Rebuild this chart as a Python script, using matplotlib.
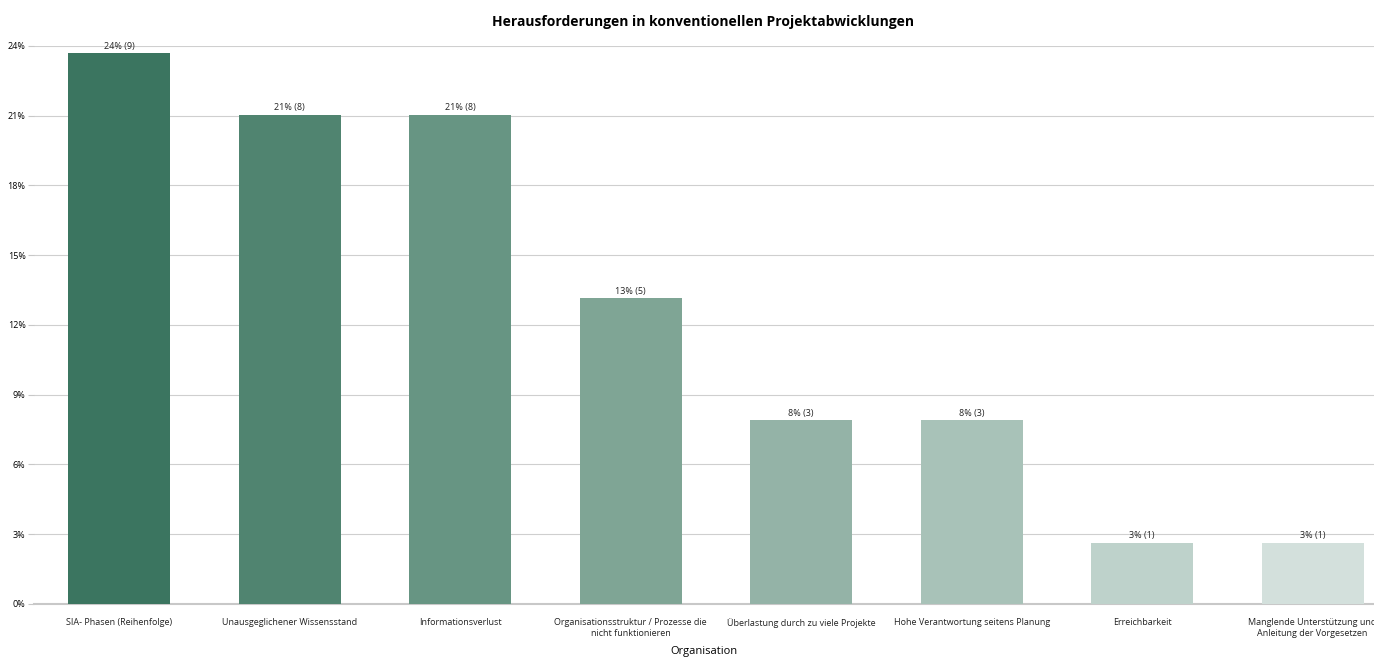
import matplotlib.pyplot as plt

# Anzahl Nennungen pro Kategorie
categories = ['SIA- Phasen (Reihenfolge)',
              'Unausgeglichener Wissensstand',
              'Informationsverlust',
              'Organisationsstruktur / Prozesse die\nnicht funktionieren',
              'Überlastung durch zu viele Projekte',
              'Hohe Verantwortung seitens Planung',
              'Erreichbarkeit',
              'Manglende Unterstützung und\nAnleitung der Vorgesetzen']
counts = [9, 8, 8, 5, 3, 3, 1, 1]
colors = ['#3b7560', '#508470', '#679583', '#7fa595',
          '#94b3a7', '#a8c2b8', '#bed2cb', '#d3e0dc']
yticks = [0, 3, 6, 9, 12, 15, 18, 21, 24]

total = sum(counts)
pct = [c / total * 100 for c in counts]

plt.rcParams['font.family'] = ['Open Sans', 'DejaVu Sans']

fig = plt.figure(figsize=(13.74, 6.59), dpi=100)
ax = fig.add_axes([0.0247, 0.0835, 0.9927, 0.8467])

x = range(len(categories))
ax.bar(x, pct, width=0.6, color=colors, zorder=3)
for i, p in enumerate(pct):
    ax.text(i, p + 0.1, '%d%% (%d)' % (round(p), counts[i]),
            ha='center', va='bottom', fontsize=6.5, color='#222222', zorder=4)

ax.set_xlim(-0.5, len(categories) - 0.5)
ax.set_ylim(0, 24)
ax.set_yticks(yticks)
ax.set_yticklabels(['%d%%' % t for t in yticks], fontsize=6.5)
ax.set_xticks(list(x))
ax.set_xticklabels(categories, fontsize=6.5, linespacing=1.3, color='#222222')
ax.tick_params(axis='x', length=0, pad=10)
ax.tick_params(axis='y', length=4, width=0.8, color='#c8c8c8', pad=2)
ax.grid(axis='y', color='#cfcfcf', linewidth=0.8, zorder=0)

for s in ['top', 'right', 'left']:
    ax.spines[s].set_visible(False)
ax.spines['bottom'].set_color('#c8c8c8')
ax.spines['bottom'].set_linewidth(1.5)

ax.set_xlabel('Organisation', fontsize=8)
ax.xaxis.set_label_coords(0.491, -0.076)
fig.text(0.512, 0.966, 'Herausforderungen in konventionellen Projektabwicklungen',
         ha='center', va='center', fontsize=10, fontweight='bold')

plt.savefig('out.png', dpi=100)
